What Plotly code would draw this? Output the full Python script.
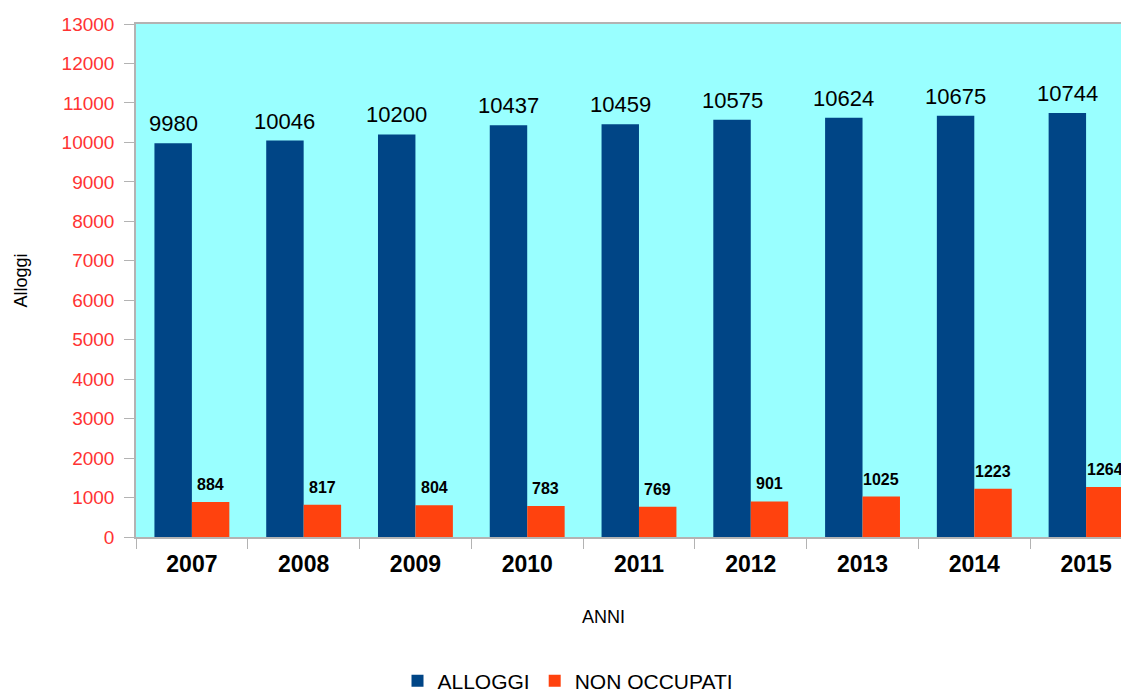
import plotly.graph_objects as go

anni = ["2007", "2008", "2009", "2010", "2011", "2012", "2013", "2014", "2015"]
alloggi = [9980, 10046, 10200, 10437, 10459, 10575, 10624, 10675, 10744]
non_occupati = [884, 817, 804, 783, 769, 901, 1025, 1223, 1264]
y_ticks = list(range(0, 13001, 1000))

BLUE = "#004586"
ORANGE = "#ff420e"
BG = "#99ffff"
GRID = "#b3b3b3"

OFF = 8  # page body margin
W, H = 1129 - OFF, 695 - OFF
PL, PT, PW, PH = 136 - OFF, 24 - OFF, W - (136 - OFF), 513

fig = go.Figure()
fig.add_trace(go.Bar(name="ALLOGGI", x=anni, y=alloggi, marker=dict(color=BLUE, line=dict(width=0))))
fig.add_trace(go.Bar(name="NON OCCUPATI", x=anni, y=non_occupati, marker=dict(color=ORANGE, line=dict(width=0))))

annotations = []
for i, v in enumerate(alloggi):
    annotations.append(dict(x=i, y=v, xref="x", yref="y", text=str(v), showarrow=False,
                            xanchor="center", yanchor="bottom", xshift=-18.7, yshift=5,
                            font=dict(family="Liberation Sans, Arial", size=22, color="black")))
for i, v in enumerate(non_occupati):
    annotations.append(dict(x=i, y=v, xref="x", yref="y", text="<b>%d</b>" % v, showarrow=False,
                            xanchor="center", yanchor="bottom", xshift=18.7, yshift=7,
                            font=dict(family="Liberation Sans Narrow, Liberation Sans, Arial", size=16, color="black")))
annotations.append(dict(text="Alloggi", xref="paper", yref="paper", x=(20 - 136) / PW, y=0.5,
                        textangle=-90, showarrow=False, xanchor="center", yanchor="middle",
                        font=dict(family="Liberation Sans, Arial", size=18, color="black")))
annotations.append(dict(text="ANNI", xref="paper", yref="paper", x=(603 - 136) / PW, y=(537 - 617) / PH,
                        showarrow=False, xanchor="center", yanchor="middle",
                        font=dict(family="Liberation Sans, Arial", size=18, color="black")))

fig.update_layout(
    width=W, height=H,
    margin=dict(l=PL, r=0, t=PT, b=H - PT - PH, autoexpand=False),
    paper_bgcolor="white", plot_bgcolor=BG,
    barmode="group", bargap=0.33, bargroupgap=0,
    font=dict(family="Liberation Sans, Arial", color="black"),
    showlegend=True,
    legend=dict(orientation="h", xref="container", yref="container", x=(568 - OFF) / W, y=1 - (681 - OFF) / H,
                xanchor="center", yanchor="middle", font=dict(size=21, color="black"),
                tracegroupgap=0),
    annotations=annotations,
)
fig.update_xaxes(type="category", range=[-0.5, 8.384], showline=True, linecolor=GRID, linewidth=1.5,
                 mirror=True, ticks="outside", tickson="boundaries", ticklen=10, tickcolor=GRID,
                 tickfont=dict(family="Liberation Sans, Arial", size=23, color="black", weight="bold"),
                 showgrid=False, ticklabelstandoff=6, automargin=False)
fig.update_yaxes(range=[0, 13000], tickvals=y_ticks, tickformat="d", showline=True, linecolor=GRID, linewidth=1.5,
                 mirror=True, ticks="outside", ticklen=10, tickcolor=GRID, showgrid=False, zeroline=False,
                 tickfont=dict(family="Liberation Sans, Arial", size=19, color="#ff3333"),
                 ticklabelstandoff=6, automargin=False)

fig.write_html("out.html")
